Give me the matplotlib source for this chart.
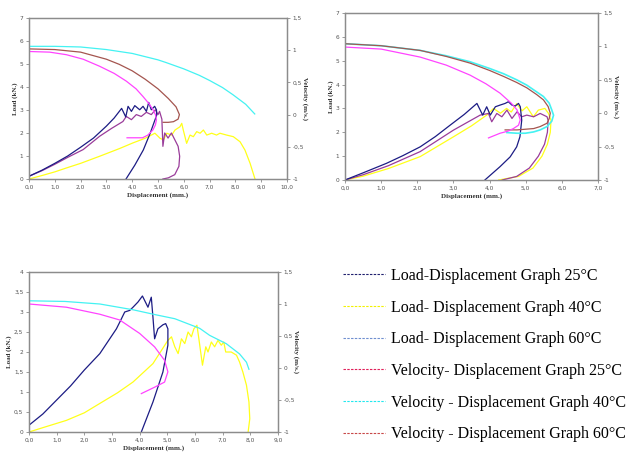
import matplotlib
matplotlib.use("Agg")
import matplotlib.pyplot as plt
from matplotlib.lines import Line2D
from matplotlib.ticker import FuncFormatter

# ---------------- data: panel A (0-10 mm) ----------------
a_load25_x = [0, 0.5, 1.0, 1.5, 2.0, 2.5, 3.0, 3.3, 3.59, 3.75, 3.84, 3.97, 4.1, 4.29, 4.42,
              4.55, 4.64, 4.74, 4.87, 4.94, 4.95, 4.7, 4.43, 4.1, 3.76]
a_load25_y = [0.12, 0.38, 0.68, 1.0, 1.38, 1.78, 2.3, 2.65, 3.07, 2.7, 3.16, 2.94, 3.19, 3.01, 3.16,
              2.94, 3.33, 3.01, 3.16, 3.01, 2.78, 2.0, 1.26, 0.6, 0.0]

a_load40_x = [0, 0.5, 1.0, 1.45, 2.0, 2.74, 3.5, 4.03, 4.5, 4.88, 5.08, 5.21, 5.34, 5.53, 5.66,
              5.85, 5.92, 5.98, 6.11, 6.24, 6.37, 6.5, 6.63, 6.76, 6.89, 7.08, 7.27, 7.4, 7.66,
              7.92, 8.18, 8.37, 8.57, 8.69, 8.76]
a_load40_y = [0.0, 0.15, 0.31, 0.48, 0.68, 0.99, 1.32, 1.57, 1.77, 1.99, 1.77, 1.70, 1.99, 1.91, 2.13,
              2.27, 2.42, 2.13, 1.55, 1.91, 1.84, 2.06, 1.99, 2.13, 1.91, 1.99, 1.91, 1.99, 1.91,
              1.84, 1.62, 1.26, 0.68, 0.25, 0.0]

a_load60_x = [0, 0.5, 1.0, 1.5, 2.1, 2.74, 3.2, 3.64, 3.77, 3.97, 4.16, 4.35, 4.55, 4.74, 4.9,
              5.0, 5.06, 5.15, 5.19, 5.26, 5.39, 5.52, 5.65, 5.78, 5.84, 5.81, 5.65, 5.4, 5.19]
a_load60_y = [0.12, 0.36, 0.64, 0.94, 1.28, 1.86, 2.2, 2.5, 2.72, 2.58, 2.8, 2.72, 2.9, 2.8, 3.01,
              2.8, 2.94, 2.6, 1.42, 2.0, 1.78, 2.0, 1.71, 1.42, 0.99, 0.55, 0.19, 0.05, 0.0]

a_vel25_x = [0, 0.8, 1.45, 2.1, 2.74, 3.3, 3.77, 4.15, 4.42, 4.65, 4.8, 4.9, 4.94, 4.9, 4.8, 4.6,
             4.4, 4.1, 3.8]
a_vel25_y = [0.98, 0.97, 0.93, 0.86, 0.75, 0.64, 0.52, 0.40, 0.28, 0.17, 0.08, 0.0, -0.08, -0.16,
             -0.24, -0.32, -0.36, -0.36, -0.36]

a_vel40_x = [0, 1, 2, 3, 4, 5, 5.3, 6, 6.6, 7, 7.5, 7.9, 8.4, 8.75]
a_vel40_y = [1.06, 1.06, 1.05, 1.01, 0.95, 0.85, 0.81, 0.71, 0.61, 0.53, 0.42, 0.31, 0.16, 0.01]

a_vel60_x = [0, 1, 2, 3, 3.5, 4, 4.5, 5, 5.4, 5.7, 5.83, 5.78, 5.6, 5.4, 5.2]
a_vel60_y = [1.02, 1.01, 0.97, 0.86, 0.78, 0.68, 0.55, 0.40, 0.25, 0.12, 0.0, -0.07, -0.11, -0.12, -0.12]

# ---------------- data: panel B (0-7 mm) ----------------
b_load25_x = [0, 0.5, 1.15, 1.6, 2.08, 2.5, 2.91, 3.3, 3.65, 3.81, 3.92, 4.02, 4.16, 4.29, 4.43,
              4.52, 4.62, 4.71, 4.8, 4.85, 4.89, 4.84, 4.75, 4.57, 4.29, 3.87]
b_load25_y = [0, 0.3, 0.7, 1.02, 1.39, 1.82, 2.3, 2.75, 3.21, 2.72, 3.07, 2.72, 3.07, 3.14, 3.21,
              3.28, 3.14, 3.1, 3.21, 3.07, 2.51, 1.81, 1.39, 0.97, 0.56, 0.0]

b_load40_x = [0, 0.5, 1.2, 2.08, 3.0, 3.5, 3.92, 4.11, 4.3, 4.47, 4.6, 4.75, 4.9, 5.03, 5.21,
              5.35, 5.53, 5.63, 5.7, 5.68, 5.6, 5.45, 5.2, 4.8, 4.25]
b_load40_y = [0, 0.16, 0.48, 0.98, 1.81, 2.27, 2.72, 3.0, 2.8, 3.0, 2.85, 3.2, 2.9, 3.07, 2.65,
              2.93, 3.0, 2.79, 2.5, 2.0, 1.5, 1.0, 0.5, 0.15, 0.0]

b_load60_x = [0, 0.5, 1.2, 2.08, 3.0, 3.74, 3.97, 4.06, 4.2, 4.34, 4.48, 4.62, 4.76, 4.89, 5.03,
              5.22, 5.4, 5.59, 5.62, 5.6, 5.52, 5.35, 5.1, 4.75, 4.35]
b_load60_y = [0, 0.22, 0.6, 1.19, 2.09, 2.72, 2.79, 2.44, 2.79, 2.65, 2.93, 2.58, 2.86, 2.65, 2.72,
              2.65, 2.79, 2.65, 2.5, 2.0, 1.5, 1.0, 0.5, 0.15, 0.0]

b_vel25_x = [0, 1.0, 2.08, 2.8, 3.46, 3.9, 4.29, 4.6, 4.76, 4.85, 4.8, 4.66, 4.5, 4.29, 3.97]
b_vel25_y = [0.99, 0.96, 0.84, 0.72, 0.57, 0.44, 0.30, 0.15, 0.05, -0.10, -0.18, -0.23, -0.27, -0.30, -0.37]

b_vel40_x = [0, 1.0, 2.08, 2.8, 3.46, 4.0, 4.39, 4.75, 5.03, 5.3, 5.49, 5.65, 5.72, 5.77, 5.72,
             5.59, 5.4, 5.22, 4.99, 4.76, 4.48]
b_vel40_y = [1.04, 1.01, 0.94, 0.86, 0.77, 0.67, 0.59, 0.50, 0.42, 0.32, 0.25, 0.15, 0.05, -0.03,
             -0.12, -0.20, -0.25, -0.28, -0.30, -0.30, -0.29]

b_vel60_x = [0, 1.0, 2.08, 2.8, 3.46, 4.0, 4.39, 4.75, 5.03, 5.3, 5.49, 5.62, 5.68, 5.65,
             5.59, 5.4, 5.22, 4.99, 4.76, 4.43]
b_vel60_y = [1.04, 1.01, 0.94, 0.85, 0.75, 0.64, 0.55, 0.46, 0.38, 0.28, 0.20, 0.10, 0.0, -0.08,
             -0.15, -0.20, -0.23, -0.24, -0.25, -0.25]

# ---------------- data: panel C (0-9 mm) ----------------
c_load25_x = [0, 0.5, 1.0, 1.5, 2.0, 2.56, 3.16, 3.34, 3.46, 3.64, 3.76, 3.94, 4.1, 4.3, 4.42,
              4.48, 4.54, 4.66, 4.84, 4.94, 5.02, 5.02, 4.84, 4.48, 4.06]
c_load25_y = [0.17, 0.45, 0.8, 1.15, 1.55, 1.96, 2.58, 2.83, 3.0, 3.04, 3.12, 3.25, 3.4, 3.12, 3.37,
              2.87, 2.33, 2.58, 2.68, 2.71, 2.58, 2.17, 1.5, 0.75, 0.0]

c_load40_x = [0, 0.6, 1.35, 2.0, 2.55, 3.2, 3.76, 4.48, 5.02, 5.15, 5.27, 5.39, 5.51, 5.63, 5.75,
              5.87, 5.96, 6.07, 6.14, 6.27, 6.39, 6.47, 6.59, 6.71, 6.83, 6.95, 7.04, 7.11, 7.31,
              7.5, 7.61, 7.73, 7.86, 7.95, 7.98, 7.92]
c_load40_y = [0, 0.13, 0.29, 0.48, 0.71, 0.98, 1.25, 1.71, 2.29, 2.38, 2.13, 1.96, 2.33, 2.21, 2.5,
              2.38, 2.58, 2.67, 2.33, 1.67, 2.13, 2.0, 2.25, 2.13, 2.29, 2.17, 2.25, 2.0, 2.0,
              1.92, 1.75, 1.5, 1.17, 0.75, 0.33, 0.0]

c_vel25_x = [0, 0, 1.35, 2.56, 3.28, 4.0, 4.54, 4.9, 5.02, 4.9, 4.54, 4.06]
c_vel25_y = [-1.0, 1.0, 0.95, 0.84, 0.75, 0.54, 0.33, 0.12, -0.06, -0.22, -0.30, -0.40]

c_vel40_x = [0, 1.3, 2.56, 3.76, 4.6, 5.27, 5.57, 6.17, 6.53, 7.13, 7.37, 7.61, 7.86, 7.95]
c_vel40_y = [1.05, 1.04, 1.0, 0.91, 0.83, 0.77, 0.72, 0.62, 0.51, 0.38, 0.30, 0.22, 0.09, -0.02]

legend_labels = ["Load-Displacement Graph 25°C",
                 "Load- Displacement Graph 40°C",
                 "Load- Displacement Graph 60°C",
                 "Velocity- Displacement Graph 25°C",
                 "Velocity - Displacement Graph 40°C",
                 "Velocity - Displacement Graph 60°C"]

# ---------------- styling ----------------
NAVY = "#1c1c84"
YELLOW = "#ffff1a"
PURPLE = "#9a3c9a"
MAGENTA = "#ff44ff"
CYAN = "#44f2f2"
BROWN = "#a4554f"
SPINE = "#8c8c8c"
LEG_COLORS = ["#20206e", "#f2f200", "#6f8fd0", "#e0205a", "#22e8ee", "#c84848"]

W, H = 627, 454
fig = plt.figure(figsize=(W / 100, H / 100), dpi=100)


def rect(left, top, right, bottom):
    return [left / W, 1 - bottom / H, (right - left) / W, (bottom - top) / H]


def comma(fmt):
    return FuncFormatter(lambda v, p: (fmt % v).replace(".", ","))


def style_axes(ax, ax2, xmax, ymax, ystep, yfmt):
    ax.set_xlim(0, xmax)
    ax.set_ylim(0, ymax)
    ax2.set_ylim(-1, 1.5)
    ax.set_xticks(range(0, xmax + 1))
    ax.xaxis.set_major_formatter(comma("%.1f"))
    yt = [i * ystep for i in range(int(round(ymax / ystep)) + 1)]
    ax.set_yticks(yt)
    ax.yaxis.set_major_formatter(FuncFormatter(yfmt))
    ax2.set_yticks([-1, -0.5, 0, 0.5, 1, 1.5])
    ax2.yaxis.set_major_formatter(FuncFormatter(
        lambda v, p: ("%g" % v).replace(".", ",")))
    for a in (ax, ax2):
        for s in a.spines.values():
            s.set_color(SPINE)
            s.set_linewidth(0.9)
        a.tick_params(direction="out", length=2, width=0.6, colors=SPINE,
                      labelsize=4.2, labelcolor="#555555", pad=2)
    ax.set_xlabel("Displacement (mm.)", family="Liberation Serif",
                  fontweight="bold", fontsize=5, labelpad=2, color="#333333")
    ax.set_ylabel("Load (kN.)", family="Liberation Serif",
                  fontweight="bold", fontsize=5, labelpad=1.5, color="#333333")
    ax2.set_ylabel("Velocity (m/s.)", family="Liberation Serif",
                   fontweight="bold", fontsize=5, rotation=270, labelpad=3,
                   color="#333333")


def yint(v, p):
    return "%d" % round(v)


def yhalf(v, p):
    return ("%g" % v).replace(".", ",")


LW = 0.9

# panel A
axA = fig.add_axes(rect(29, 18, 287, 179))
axA2 = axA.twinx()
style_axes(axA, axA2, 10, 7, 1, yint)
axA.plot(a_load40_x, a_load40_y, color=YELLOW, lw=LW)
axA.plot(a_load60_x, a_load60_y, color=PURPLE, lw=LW)
axA.plot(a_load25_x, a_load25_y, color=NAVY, lw=LW)
axA2.plot(a_vel40_x, a_vel40_y, color=CYAN, lw=LW)
axA2.plot(a_vel60_x, a_vel60_y, color=BROWN, lw=LW)
axA2.plot(a_vel25_x, a_vel25_y, color=MAGENTA, lw=LW)

# panel B
axB = fig.add_axes(rect(345, 13, 598, 180))
axB2 = axB.twinx()
style_axes(axB, axB2, 7, 7, 1, yint)
axB.plot(b_load40_x, b_load40_y, color=YELLOW, lw=LW)
axB.plot(b_load60_x, b_load60_y, color=PURPLE, lw=LW)
axB.plot(b_load25_x, b_load25_y, color=NAVY, lw=LW)
axB2.plot(b_vel40_x, b_vel40_y, color=CYAN, lw=LW + 0.3)
axB2.plot(b_vel60_x, b_vel60_y, color=BROWN, lw=LW)
axB2.plot(b_vel25_x, b_vel25_y, color=MAGENTA, lw=LW)

# panel C
axC = fig.add_axes(rect(29, 272, 278, 432))
axC2 = axC.twinx()
style_axes(axC, axC2, 9, 4, 0.5, yhalf)
axC.plot(c_load40_x, c_load40_y, color=YELLOW, lw=LW)
axC.plot(c_load25_x, c_load25_y, color=NAVY, lw=LW)
axC2.plot(c_vel40_x, c_vel40_y, color=CYAN, lw=LW)
axC2.plot(c_vel25_x, c_vel25_y, color=MAGENTA, lw=LW)

# legend block
handles = [Line2D([], [], color=c, lw=0.8, linestyle=(0, (2.2, 1.2)))
           for c in LEG_COLORS]
fig.legend(handles, legend_labels, loc="upper left",
           bbox_to_anchor=(343 / W, 1 - 268 / H), frameon=False,
           prop={"family": "Liberation Serif", "size": 11.5},
           handlelength=2.6, handletextpad=0.4, labelspacing=0.98,
           borderaxespad=0, borderpad=0)

fig.savefig("out.png", dpi=100)
